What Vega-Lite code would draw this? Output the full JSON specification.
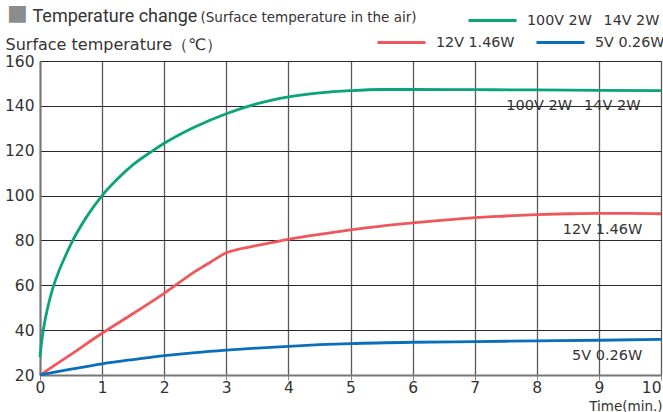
{
  "$schema": "https://vega.github.io/schema/vega-lite/v6.json",
  "width": 621,
  "height": 314,
  "autosize": {"type": "none"},
  "padding": {"left": 40, "top": 61, "right": 2, "bottom": 37},
  "background": "white",
  "config": {
    "view": {"stroke": null},
    "font": "DejaVu Sans",
    "axis": {"labelColor": "#333", "titleColor": "#333", "titleFontWeight": "normal", "labelFont": "DejaVu Sans", "titleFont": "DejaVu Sans"},
    "legend": {"labelColor": "#333", "labelFont": "DejaVu Sans"}
  },
  "title": {
    "text": "■",
    "anchor": "start",
    "frame": "group",
    "orient": "top",
    "offset": -30,
    "dx": -33,
    "font": "DejaVu Sans",
    "fontSize": 22,
    "fontWeight": "normal",
    "color": "#8c8c8c"
  },
  "datasets": {
    "curves": [
      {"series": "100V 2W\u2002 14V 2W", "t": 0, "temp": 28},
      {"series": "100V 2W\u2002 14V 2W", "t": 0.02, "temp": 33.5},
      {"series": "100V 2W\u2002 14V 2W", "t": 0.05, "temp": 39.5},
      {"series": "100V 2W\u2002 14V 2W", "t": 0.1, "temp": 47},
      {"series": "100V 2W\u2002 14V 2W", "t": 0.15, "temp": 53},
      {"series": "100V 2W\u2002 14V 2W", "t": 0.215, "temp": 59.5},
      {"series": "100V 2W\u2002 14V 2W", "t": 0.3, "temp": 66},
      {"series": "100V 2W\u2002 14V 2W", "t": 0.4, "temp": 72.5},
      {"series": "100V 2W\u2002 14V 2W", "t": 0.5, "temp": 78.5},
      {"series": "100V 2W\u2002 14V 2W", "t": 0.75, "temp": 90.5},
      {"series": "100V 2W\u2002 14V 2W", "t": 1, "temp": 100},
      {"series": "100V 2W\u2002 14V 2W", "t": 1.25, "temp": 107.5},
      {"series": "100V 2W\u2002 14V 2W", "t": 1.5, "temp": 113.8},
      {"series": "100V 2W\u2002 14V 2W", "t": 1.8, "temp": 119.7},
      {"series": "100V 2W\u2002 14V 2W", "t": 2, "temp": 123.3},
      {"series": "100V 2W\u2002 14V 2W", "t": 2.5, "temp": 130.7},
      {"series": "100V 2W\u2002 14V 2W", "t": 3, "temp": 136.5},
      {"series": "100V 2W\u2002 14V 2W", "t": 3.5, "temp": 141},
      {"series": "100V 2W\u2002 14V 2W", "t": 4, "temp": 144},
      {"series": "100V 2W\u2002 14V 2W", "t": 4.5, "temp": 145.8},
      {"series": "100V 2W\u2002 14V 2W", "t": 5, "temp": 146.8},
      {"series": "100V 2W\u2002 14V 2W", "t": 5.5, "temp": 147.3},
      {"series": "100V 2W\u2002 14V 2W", "t": 6, "temp": 147.3},
      {"series": "100V 2W\u2002 14V 2W", "t": 7, "temp": 147.2},
      {"series": "100V 2W\u2002 14V 2W", "t": 8, "temp": 147.1},
      {"series": "100V 2W\u2002 14V 2W", "t": 9, "temp": 146.9},
      {"series": "100V 2W\u2002 14V 2W", "t": 10, "temp": 146.8},
      {"series": "12V 1.46W", "t": 0, "temp": 20},
      {"series": "12V 1.46W", "t": 0.5, "temp": 29.2},
      {"series": "12V 1.46W", "t": 1, "temp": 38.6},
      {"series": "12V 1.46W", "t": 1.5, "temp": 47.4},
      {"series": "12V 1.46W", "t": 2, "temp": 56.4},
      {"series": "12V 1.46W", "t": 2.5, "temp": 66.2},
      {"series": "12V 1.46W", "t": 2.75, "temp": 70.4},
      {"series": "12V 1.46W", "t": 3, "temp": 74.5},
      {"series": "12V 1.46W", "t": 3.25, "temp": 76.4},
      {"series": "12V 1.46W", "t": 3.5, "temp": 77.8},
      {"series": "12V 1.46W", "t": 4, "temp": 80.5},
      {"series": "12V 1.46W", "t": 4.5, "temp": 82.7},
      {"series": "12V 1.46W", "t": 5, "temp": 84.7},
      {"series": "12V 1.46W", "t": 5.5, "temp": 86.4},
      {"series": "12V 1.46W", "t": 6, "temp": 87.8},
      {"series": "12V 1.46W", "t": 6.5, "temp": 89.1},
      {"series": "12V 1.46W", "t": 7, "temp": 90.2},
      {"series": "12V 1.46W", "t": 7.5, "temp": 90.9},
      {"series": "12V 1.46W", "t": 8, "temp": 91.5},
      {"series": "12V 1.46W", "t": 8.5, "temp": 91.9},
      {"series": "12V 1.46W", "t": 9, "temp": 92.1},
      {"series": "12V 1.46W", "t": 9.5, "temp": 92.1},
      {"series": "12V 1.46W", "t": 10, "temp": 91.9},
      {"series": "5V 0.26W", "t": 0, "temp": 20},
      {"series": "5V 0.26W", "t": 0.5, "temp": 22.6},
      {"series": "5V 0.26W", "t": 1, "temp": 25},
      {"series": "5V 0.26W", "t": 1.5, "temp": 26.9},
      {"series": "5V 0.26W", "t": 2, "temp": 28.6},
      {"series": "5V 0.26W", "t": 2.5, "temp": 30},
      {"series": "5V 0.26W", "t": 3, "temp": 31.1},
      {"series": "5V 0.26W", "t": 3.5, "temp": 32},
      {"series": "5V 0.26W", "t": 4, "temp": 32.8},
      {"series": "5V 0.26W", "t": 4.5, "temp": 33.5},
      {"series": "5V 0.26W", "t": 5, "temp": 34},
      {"series": "5V 0.26W", "t": 6, "temp": 34.6},
      {"series": "5V 0.26W", "t": 7, "temp": 34.9},
      {"series": "5V 0.26W", "t": 8, "temp": 35.2},
      {"series": "5V 0.26W", "t": 9, "temp": 35.5},
      {"series": "5V 0.26W", "t": 10, "temp": 35.9}
    ],
    "labels": [
      {"t": 9.67, "temp": 140, "label": "100V 2W\u2002 14V 2W"},
      {"t": 9.7, "temp": 84.7, "label": "12V 1.46W"},
      {"t": 9.7, "temp": 28.6, "label": "5V 0.26W"}
    ]
  },
  "layer": [
    {
      "data": {"name": "curves"},
      "transform": [{"filter": {"field": "series", "equal": "100V 2W\u2002 14V 2W"}}],
      "mark": {"type": "line", "interpolate": "monotone", "strokeWidth": 2.8},
      "encoding": {
        "x": {
          "field": "t", "type": "quantitative",
          "scale": {"domain": [0, 10], "nice": false, "zero": false},
          "axis": {
            "orient": "bottom",
            "values": [0, 1, 2, 3, 4, 5, 6, 7, 8, 9, 10],
            "grid": true, "gridColor": "#5a5a5a", "gridWidth": 1.3,
            "tickSize": 5, "tickColor": "#888",
            "domainColor": "#777", "domainWidth": 2,
            "labelFontSize": 15.5, "labelPadding": 0,
            "labelFlush": false, "labelOverlap": false,
            "labelAlign": {"condition": {"test": "datum.value == 10", "value": "right"}, "value": "center"},
            "title": "Time(min.)",
            "titleAlign": "right", "titleX": 622, "titleY": 31,
            "titleBaseline": "middle", "titleFontSize": 13.5
          }
        },
        "y": {
          "field": "temp", "type": "quantitative",
          "scale": {"domain": [20, 160], "nice": false, "zero": false},
          "axis": {
            "orient": "left",
            "values": [20, 40, 60, 80, 100, 120, 140, 160],
            "grid": true, "gridColor": "#2a2a2a", "gridWidth": 1,
            "ticks": false, "labelPadding": 6, "labelFontSize": 15.5,
            "labelOverlap": false,
            "domainColor": "#777", "domainWidth": 2,
            "title": "Surface temperature（℃）",
            "titleAngle": 0, "titleX": -35, "titleY": -17,
            "titleAlign": "left", "titleBaseline": "middle",
            "titleFontSize": 16
          }
        },
        "color": {
          "field": "series", "type": "nominal",
          "scale": {"domain": ["100V 2W\u2002 14V 2W"], "range": ["#0aa37a"]},
          "legend": {
            "orient": "none", "legendX": 427, "legendY": -66,
            "title": null, "symbolType": "stroke", "symbolSize": 2304,
            "symbolStrokeWidth": 3, "labelFontSize": 14.3,
            "labelOffset": 9, "padding": 0, "labelLimit": 300
          }
        }
      }
    },
    {
      "data": {"name": "curves"},
      "transform": [{"filter": {"field": "series", "oneOf": ["12V 1.46W", "5V 0.26W"]}}],
      "mark": {"type": "line", "interpolate": "monotone", "strokeWidth": 2.8},
      "encoding": {
        "x": {"field": "t", "type": "quantitative", "scale": {"domain": [0, 10], "nice": false, "zero": false}, "axis": null},
        "y": {"field": "temp", "type": "quantitative", "scale": {"domain": [20, 160], "nice": false, "zero": false}, "axis": null},
        "color": {
          "field": "series", "type": "nominal",
          "scale": {"domain": ["12V 1.46W", "5V 0.26W"], "range": ["#f0575c", "#0a6fba"]},
          "legend": {
            "orient": "none", "legendX": 336, "legendY": -44,
            "direction": "horizontal", "columns": 2, "columnPadding": 15,
            "title": null, "symbolType": "stroke", "symbolSize": 2304,
            "symbolStrokeWidth": 3, "labelFontSize": 14.3,
            "labelOffset": 9, "padding": 0, "labelLimit": 300
          }
        }
      }
    },
    {
      "data": {"name": "labels"},
      "mark": {"type": "text", "align": "right", "baseline": "middle", "font": "DejaVu Sans", "fontSize": 14.5, "color": "#333"},
      "encoding": {
        "x": {
          "field": "t", "type": "quantitative",
          "scale": {"domain": [0, 10], "nice": false, "zero": false},
          "axis": {
            "orient": "top", "domain": false, "ticks": false, "labels": false, "grid": false,
            "title": "Temperature change",
            "titleX": -8, "titleY": -45, "titleAlign": "left", "titleBaseline": "middle",
            "titleFont": "Roboto", "titleFontSize": 18, "titleColor": "#333"
          }
        },
        "y": {
          "field": "temp", "type": "quantitative",
          "scale": {"domain": [20, 160], "nice": false, "zero": false},
          "axis": {
            "orient": "right", "domain": false, "ticks": false, "labels": false, "grid": false,
            "title": "(Surface temperature in the air)",
            "titleAngle": 0, "titleX": -461, "titleY": -44, "titleAlign": "left", "titleBaseline": "middle",
            "titleFont": "DejaVu Sans", "titleFontSize": 13.5, "titleColor": "#333"
          }
        },
        "text": {"field": "label"}
      }
    }
  ],
  "resolve": {
    "scale": {"color": "independent"},
    "axis": {"x": "independent", "y": "independent"}
  }
}
